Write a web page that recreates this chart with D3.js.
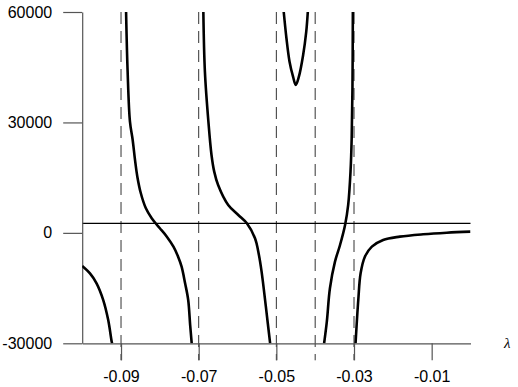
<!DOCTYPE html>
<html>
<head>
<meta charset="utf-8">
<script src="https://cdn.jsdelivr.net/npm/d3@7"></script>
<style>
  html, body { margin: 0; padding: 0; background: #fff; }
  svg { display: block; }
</style>
</head>
<body>
<svg id="chart" width="518" height="387"></svg>
<script>
// ---- data ----
const xTicks = [-0.09, -0.07, -0.05, -0.03, -0.01];
const yTicks = [-30000, 0, 30000, 60000];
const asymptotes = [-0.09, -0.07, -0.05, -0.04, -0.03];
const referenceLevel = 2600;

const branch1 = [[-0.1, -9000], [-0.0980, -11000], [-0.0963, -13700], [-0.0946, -18200],
                 [-0.0933, -23700], [-0.0924, -29600], [-0.0923, -30000]];
const branch2 = [[-0.0887, 60000], [-0.0883, 43800], [-0.0877, 30200], [-0.0870, 25240],
                 [-0.0864, 19810], [-0.0858, 15270], [-0.0849, 10760], [-0.0836, 6680],
                 [-0.0821, 3970], [-0.0811, 2610], [-0.0800, 1250], [-0.0782, -1030],
                 [-0.0765, -3750], [-0.0753, -6470], [-0.0744, -9180], [-0.0735, -13690],
                 [-0.0727, -18230], [-0.0722, -25020], [-0.0718, -30000]];
const branch3 = [[-0.0688, 60000], [-0.0684, 43800], [-0.0675, 30200], [-0.0667, 21160],
                 [-0.0660, 16630], [-0.0650, 13010], [-0.0624, 7580], [-0.0598, 4860],
                 [-0.0576, 2600], [-0.0555, -1470], [-0.0545, -5950], [-0.0538, -10540],
                 [-0.0527, -20050], [-0.0521, -25500], [-0.0516, -30000]];
const branch4 = [[-0.0481, 60000], [-0.0474, 52870], [-0.0466, 46510], [-0.0457, 42430],
                 [-0.0450, 40180], [-0.0442, 42430], [-0.0431, 48330], [-0.0423, 54660],
                 [-0.0419, 60000]];
const branch5 = [[-0.0377, -30000], [-0.0370, -24120], [-0.0362, -15050], [-0.0349, -7820],
                 [-0.0336, -3290], [-0.0323, 2150], [-0.0315, 7580], [-0.0309, 16630],
                 [-0.0306, 25700], [-0.0304, 39280], [-0.0303, 60000]];
const branch6 = [[-0.0296, -30000], [-0.0289, -18230], [-0.0283, -10980], [-0.0272, -6470],
                 [-0.0254, -3750], [-0.0225, -1930], [-0.0182, -1030], [-0.0122, -380],
                 [-0.0061, 50], [0, 330]];
const branches = [branch1, branch2, branch3, branch4, branch5, branch6];

// ---- layout ----
const svg = d3.select("#chart");
const plotLeft = 82.2, plotRight = 470.5, plotTop = 12, plotBottom = 343.3;
const x = d3.scaleLinear().domain([-0.1, 0]).range([plotLeft, plotRight]);
const y = d3.scaleLinear().domain([-30000, 60000]).range([plotBottom, plotTop]);
const axisColor = "#555";
const font = "'Liberation Sans', Arial, Helvetica, sans-serif";

svg.append("defs").append("clipPath").attr("id", "plot")
  .append("rect").attr("x", plotLeft).attr("y", plotTop)
  .attr("width", plotRight - plotLeft).attr("height", plotBottom - plotTop);

// dashed asymptotes
svg.append("g").selectAll("line").data(asymptotes).join("line")
  .attr("x1", d => x(d)).attr("x2", d => x(d))
  .attr("y1", plotTop).attr("y2", plotBottom + 17)
  .attr("stroke", "#333").attr("stroke-width", 1)
  .attr("stroke-dasharray", "12,7");

// horizontal reference line
svg.append("line")
  .attr("x1", x(-0.1)).attr("x2", x(0))
  .attr("y1", y(referenceLevel)).attr("y2", y(referenceLevel))
  .attr("stroke", "#000").attr("stroke-width", 1.2);

// axes
const yAxis = d3.axisLeft(y).tickValues(yTicks).tickSize(19).tickSizeOuter(0)
  .tickPadding(11).tickFormat(d => String(d));
const gy = svg.append("g").attr("transform", `translate(${plotLeft},0)`).call(yAxis);
const xAxis = d3.axisBottom(x).tickValues(xTicks).tickSize(17).tickSizeOuter(0)
  .tickPadding(10).tickFormat(d => d.toFixed(2));
const gx = svg.append("g").attr("transform", `translate(0,${plotBottom})`).call(xAxis);

[gx, gy].forEach(g => {
  g.select(".domain").attr("stroke", axisColor).attr("stroke-width", 1.2);
  g.selectAll(".tick line").attr("stroke", axisColor).attr("stroke-width", 1.2);
  g.selectAll(".tick text").attr("fill", "#000").style("font-family", font).style("font-size", "16px");
});

// curve branches
const line = d3.line().x(d => x(d[0])).y(d => y(d[1])).curve(d3.curveCatmullRom.alpha(0.5));
svg.append("g").attr("clip-path", "url(#plot)")
  .selectAll("path").data(branches).join("path")
  .attr("d", line)
  .attr("fill", "none").attr("stroke", "#000").attr("stroke-width", 2.6)
  .attr("stroke-linejoin", "round");

// axis label
svg.append("text").attr("x", 504).attr("y", 348)
  .style("font-family", "'Liberation Serif', 'Times New Roman', serif")
  .style("font-style", "italic").style("font-size", "15px")
  .text("λ");
</script>
</body>
</html>
